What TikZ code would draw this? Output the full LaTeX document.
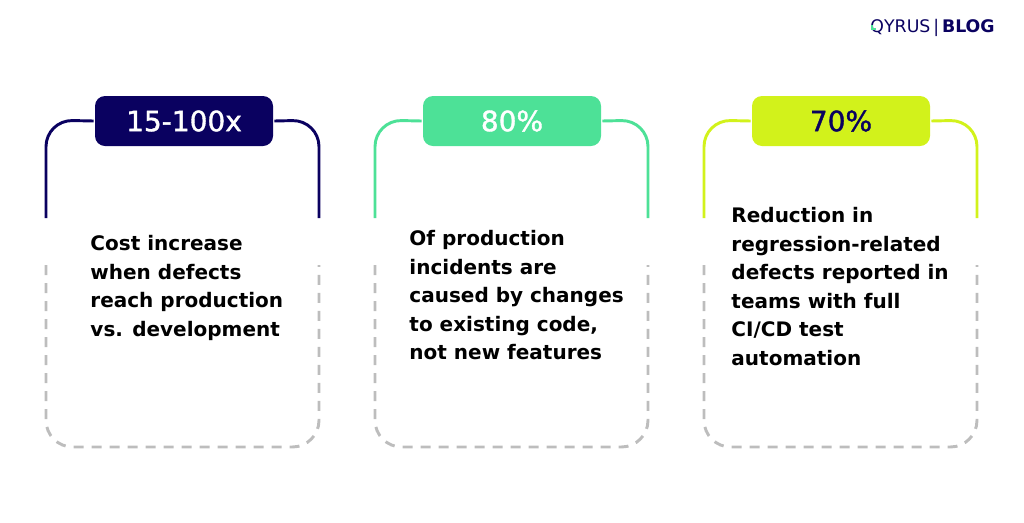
\documentclass[tikz,border=0pt]{standalone}
\usepackage{fontspec}
\setmainfont{DejaVu Sans}
\newfontfamily\medfont[FakeBold=1.3]{DejaVu Sans}
\usetikzlibrary{positioning}
\definecolor{qnavy}{HTML}{0A0160}
\definecolor{qgreen}{HTML}{4DE197}
\definecolor{qlime}{HTML}{D2F21B}
\definecolor{qgray}{HTML}{BDBDBD}

\begin{document}
\begin{tikzpicture}[x=0.75pt, y=-0.75pt, line width=2.2pt]
\tikzstyle{tab}=[rounded corners=7.5pt, minimum width=133.5pt, minimum height=37.5pt, inner sep=0pt, font=\medfont\fontsize{21pt}{21pt}\selectfont]
\tikzstyle{frame}=[rounded corners=20pt]
\tikzstyle{lower}=[qgray, dash pattern=on 7.5pt off 6pt, rounded corners=20pt]
\tikzstyle{body}=[anchor=north west, align=left, inner sep=0pt, font=\bfseries\fontsize{15pt}{21.4pt}\selectfont]
\useasboundingbox (0,0) rectangle (1024,522);
% logo
\node[anchor=base west, inner sep=0pt, text=qnavy, font=\fontsize{13pt}{13pt}\selectfont] (logo) at (869,32) {QYRUS\,|\,\textbf{BLOG}};
\draw[qgreen, line width=1.2pt] (872,25) -- (872,29) -- (876,29);
% tabs
\node[tab, fill=qnavy, text=white]  (tabA) at (184,121) {15-100x};
\node[tab, fill=qgreen, text=white] (tabB) at (512,121) {80\%};
\node[tab, fill=qlime, text=qnavy]  (tabC) at (841,121) {70\%};
% solid tops
\draw[frame, qnavy] (tabA.west) -- (46,120) -- (46,218);
\draw[frame, qnavy] (tabA.east) -- (319,120) -- (319,218);
\draw[frame, qgreen] (tabB.west) -- (375,120) -- (375,218);
\draw[frame, qgreen] (tabB.east) -- (648,120) -- (648,218);
\draw[frame, qlime] (tabC.west) -- (704,120) -- (704,218);
\draw[frame, qlime] (tabC.east) -- (977,120) -- (977,218);
% dashed bottoms
\draw[lower] (46,265) -- (46,447) -- (319,447) -- (319,265);
\draw[lower] (375,265) -- (375,447) -- (648,447) -- (648,265);
\draw[lower] (704,265) -- (704,447) -- (977,447) -- (977,265);
% texts
\node[body] (textA) at (89,234) {Cost increase\\when defects\\reach production\\vs. development};
\node[body] (textB) at (408,229) {Of production\\incidents are\\caused by changes\\to existing code,\\not new features};
\node[body] (textC) at (730,206) {Reduction in\\regression-related\\defects reported in\\teams with full\\CI/CD test\\automation};
\end{tikzpicture}
\end{document}
